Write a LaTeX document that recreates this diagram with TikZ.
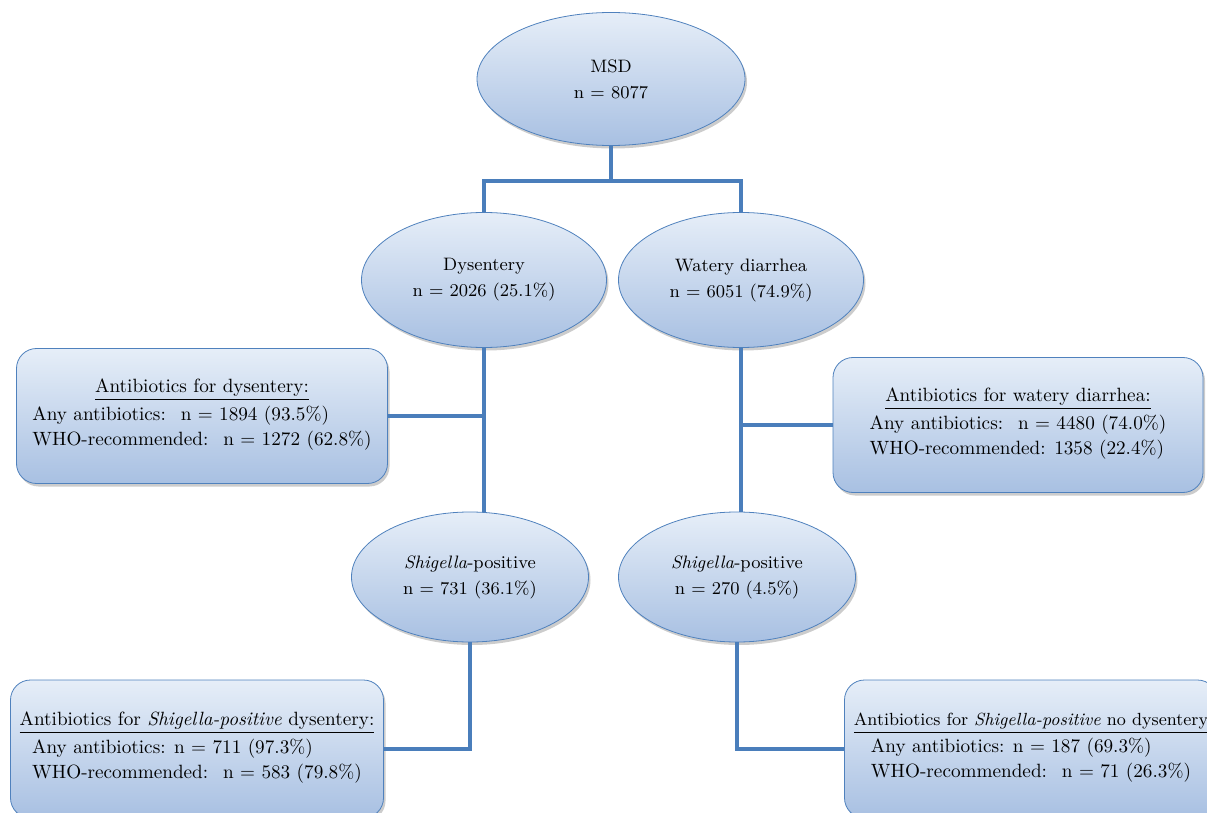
\documentclass[tikz,border=0pt]{standalone}
\usepackage{tikz}
\usetikzlibrary{shapes.geometric,shadows}
\definecolor{edgeblue}{HTML}{4F81BD}
\definecolor{linkblue}{HTML}{4A7EBB}
\definecolor{fadetop}{HTML}{E6EEF8}
\definecolor{fadebot}{HTML}{A8C0E2}
\tikzset{
    oval-node/.style = {ellipse, draw=edgeblue, thin, top color=fadetop, bottom color=fadebot, inner sep=0pt, align=center, font=\fontsize{9}{13}\selectfont, drop shadow={opacity=0.4, shadow xshift=1pt, shadow yshift=-1.5pt}},
    info-box/.style = {rectangle, rounded corners=10pt, draw=edgeblue, thin, top color=fadetop, bottom color=fadebot, inner sep=0pt, align=center, font=\fontsize{9.6}{12.5}\selectfont, drop shadow={opacity=0.4, shadow xshift=1pt, shadow yshift=-1.5pt}},
    link-line/.style = {draw=linkblue, line width=2pt},
}

\begin{document}
\begin{tikzpicture}[x=0.5pt, y=-0.5pt]
\useasboundingbox (0,0) rectangle (1207,813);

\node [oval-node, minimum width=134pt, minimum height=66.5pt] (msd) at (611,79) {MSD\\n = 8077};
\node [oval-node, minimum width=122.5pt, minimum height=67.5pt] (dys) at (484,280) {Dysentery\\n = 2026 (25.1\%)};
\node [oval-node, minimum width=122.5pt, minimum height=67.5pt] (wat) at (741,280) {Watery diarrhea\\n = 6051 (74.9\%)};
\node [oval-node, minimum width=118.5pt, minimum height=65pt] (shigD) at (470,577) {\textit{Shigella}-positive\\n = 731 (36.1\%)};
\node [oval-node, minimum width=118.5pt, minimum height=65pt] (shigW) at (737,577) {\textit{Shigella}-positive\\n = 270 (4.5\%)};

\node [info-box, minimum width=185.5pt, minimum height=67.5pt] (abxD) at (202,416) {\underline{Antibiotics for dysentery:}\\
    \begin{tabular}[t]{@{}l@{}}Any antibiotics:~ n = 1894 (93.5\%)\\WHO-recommended:~ n = 1272 (62.8\%)\end{tabular}};
\node [info-box, minimum width=185pt, minimum height=67.5pt] (abxW) at (1018,425) {\underline{Antibiotics for watery diarrhea:}\\
    \begin{tabular}[t]{@{}l@{}}Any antibiotics:~ n = 4480 (74.0\%)\\WHO-recommended: 1358 (22.4\%)\end{tabular}};
\node [info-box, minimum width=186.5pt, minimum height=69pt] (abxSD) at (197,749) {\underline{Antibiotics for \textit{Shigella-positive} dysentery:}\\
    \begin{tabular}[t]{@{}l@{}}Any antibiotics: n = 711 (97.3\%)\\WHO-recommended:~ n = 583 (79.8\%)\end{tabular}};
\node [info-box, minimum width=186.5pt, minimum height=69pt] (abxSW) at (1031,749) {{\fontsize{8.8}{12.5}\selectfont\underline{Antibiotics for \textit{Shigella-positive} no dysentery}}\\
    \begin{tabular}[t]{@{}l@{}}Any antibiotics: n = 187 (69.3\%)\\WHO-recommended:~ n = 71 (26.3\%)\end{tabular}};

% tree links
\draw [link-line] (msd.south) -- ++(0,35) coordinate (split) -| (dys.north);
\draw [link-line] (split) -| (wat.north);
\draw [link-line] (dys.south) -- (dys.south |- shigD.north);
\draw [link-line] (wat.south) -- (wat.south |- shigW.north);
\draw [link-line] (abxD.east) -- (abxD.east -| dys.south);
\draw [link-line] (abxW.west) -- (abxW.west -| wat.south);
\draw [link-line] (shigD.south) |- (abxSD.east);
\draw [link-line] (shigW.south) |- (abxSW.west);
\end{tikzpicture}
\end{document}
